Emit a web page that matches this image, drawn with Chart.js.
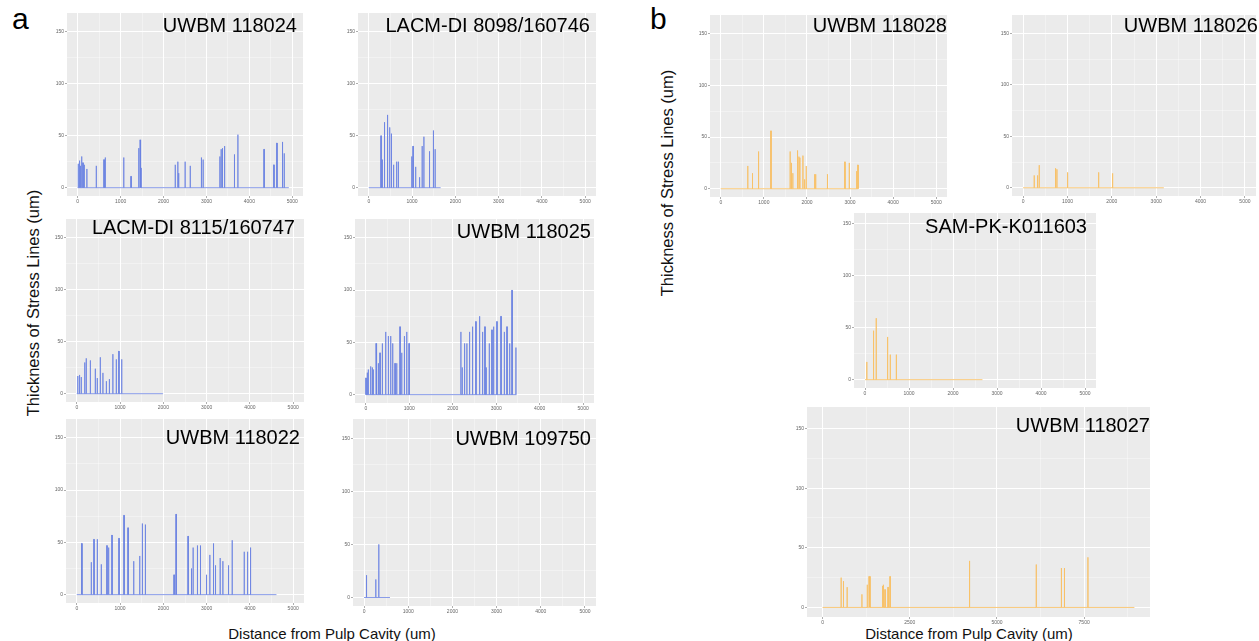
<!DOCTYPE html>
<html>
<head>
<meta charset="utf-8">
<script src="https://cdn.jsdelivr.net/npm/chart.js@4.4.1/dist/chart.umd.min.js"></script>
<style>
  html, body { margin: 0; padding: 0; background: #ffffff; }
  body { width: 1259px; height: 641px; position: relative; overflow: hidden;
         font-family: "Liberation Sans", Arial, Helvetica, sans-serif; }
  .lbl { position: absolute; white-space: nowrap; color: #000; }
  .ttl { font-size: 20px; line-height: 20px; }
  .axt { font-size: 15px; line-height: 15px; color: #111; }
  .axy { font-size: 16.5px; line-height: 16px; color: #111; }
  .big { font-size: 30px; line-height: 30px; }
  canvas { position: absolute; }
</style>
</head>
<body>
<div class="lbl big" style="left:12px; top:4px;">a</div>
<div class="lbl big" style="left:650px; top:4px;">b</div>
<div class="lbl axt" style="left:332px; top:633px; transform:translate(-50%,-50%);">Distance from Pulp Cavity (um)</div>
<div class="lbl axt" style="left:969px; top:633px; transform:translate(-50%,-50%);">Distance from Pulp Cavity (um)</div>
<div class="lbl axy" style="left:33px; top:303px; transform:translate(-50%,-50%) rotate(-90deg);">Thickness of Stress Lines (um)</div>
<div class="lbl axy" style="left:667px; top:183px; transform:translate(-50%,-50%) rotate(-90deg);">Thickness of Stress Lines (um)</div>

<script>
// ---------- tick labels ----------
const yTicks = [0, 50, 100, 150];
const xTicks5k = [0, 1000, 2000, 3000, 4000, 5000];
const xTicks10k = [0, 2500, 5000, 7500];

// ---------- series: spike positions (um) and thickness (um), plus end of trace ----------
const uwbm118024X = [10, 40, 60, 90, 120, 150, 210, 430, 610, 640, 1070, 1240, 1420, 1450, 1470, 2270, 2330, 2350, 2500, 2620, 2880, 2920, 3310, 3340, 3370, 3420, 3650, 3730, 4340, 4570, 4640, 4770, 4810];
const uwbm118024H = [23, 26, 21, 30, 24, 22, 18, 21, 27, 29, 29, 11, 38, 46, 19, 22, 25, 14, 25, 21, 29, 27, 30, 37, 38, 40, 32, 51, 37, 22, 43, 44, 33];
const uwbm118024End = 4920;

const lacm8098X = [280, 310, 360, 430, 480, 520, 570, 640, 680, 990, 1020, 1080, 1170, 1230, 1270, 1400, 1490, 1530];
const lacm8098H = [50, 27, 63, 70, 58, 52, 22, 25, 25, 30, 40, 20, 10, 40, 49, 35, 55, 37];
const lacm8098End = 1660;

const lacm8115X = [20, 60, 100, 180, 215, 310, 425, 470, 540, 600, 680, 750, 830, 910, 970, 1035];
const lacm8115H = [17, 18, 16, 30, 34, 32, 24, 15, 35, 20, 12, 14, 38, 33, 41, 33];
const lacm8115End = 1990;

const uwbm118025X = [0, 31, 54, 108, 146, 169, 231, 246, 285, 323, 377, 454, 515, 569, 615, 669, 708, 784, 823, 884, 938, 992, 2184, 2215, 2269, 2322, 2384, 2453, 2530, 2615, 2684, 2738, 2768, 2838, 2899, 2938, 3014, 3107, 3184, 3245, 3307, 3361, 3450];
const uwbm118025H = [16, 21, 24, 27, 26, 24, 49, 21, 30, 40, 49, 60, 56, 56, 49, 30, 30, 65, 40, 56, 60, 49, 60, 26, 49, 49, 60, 65, 70, 75, 60, 65, 26, 49, 62, 65, 70, 75, 60, 65, 49, 100, 45];
const uwbm118025End = 3461;

const uwbm118022X = [100, 116, 332, 394, 471, 563, 694, 733, 810, 972, 1088, 1181, 1312, 1451, 1512, 1582, 2245, 2292, 2569, 2647, 2685, 2785, 2855, 2994, 3071, 3156, 3202, 3310, 3372, 3503, 3588, 3866, 3943, 4012];
const uwbm118022H = [36, 49, 31, 53, 53, 29, 47, 45, 57, 54, 76, 64, 32, 37, 68, 67, 19, 77, 56, 25, 45, 47, 47, 19, 38, 49, 28, 35, 32, 28, 52, 41, 41, 45];
const uwbm118022End = 4614;

const uwbm109750X = [53, 263, 331];
const uwbm109750H = [21, 17, 50];
const uwbm109750End = 587;

const uwbm118028X = [624, 733, 874, 1162, 1607, 1638, 1669, 1778, 1810, 1833, 1903, 1942, 1981, 2176, 2200, 2473, 2878, 2980, 3151, 3180];
const uwbm118028H = [22, 15, 36, 56, 36, 25, 15, 37, 31, 30, 32, 9, 22, 14, 14, 14, 26, 25, 17, 23];
const uwbm118028End = 3190;

const uwbm118026X = [248, 323, 361, 729, 759, 1000, 1700, 2015];
const uwbm118026H = [12, 12, 22, 19, 18, 15, 15, 14];
const uwbm118026End = 3173;

const samK011603X = [38, 191, 252, 511, 572, 710];
const samK011603H = [17, 47, 59, 41, 24, 24];
const samK011603End = 2670;

const uwbm118027X = [529, 596, 702, 1125, 1279, 1327, 1356, 1721, 1740, 1788, 1875, 1933, 4211, 6125, 6846, 6933, 7606];
const uwbm118027H = [25, 22, 17, 11, 19, 26, 26, 18, 19, 15, 17, 26, 39, 36, 33, 33, 42];
const uwbm118027End = 8942;

// ---------- styling / layout ----------
const BLUE = 'rgba(104,128,226,0.78)';
const ORANGE = 'rgba(248,192,100,0.85)';
const PAD_L = 14, PAD_B = 11;
const SPIKE_W = 5;

const panels = [
  { name: 'UWBM 118024', xs: uwbm118024X, hs: uwbm118024H, end: uwbm118024End, color: BLUE,
    box: [67, 13, 303, 196], xr: [-250, 5250], yr: [-8, 168], xt: xTicks5k, title: [297, 32] },
  { name: 'LACM-DI 8098/160746', xs: lacm8098X, hs: lacm8098H, end: lacm8098End, color: BLUE,
    box: [358, 13, 596, 196], xr: [-250, 5250], yr: [-8, 168], xt: xTicks5k, title: [590, 32] },
  { name: 'LACM-DI 8115/160747', xs: lacm8115X, hs: lacm8115H, end: lacm8115End, color: BLUE,
    box: [66, 219, 304, 402], xr: [-250, 5250], yr: [-8, 168], xt: xTicks5k, title: [295, 234] },
  { name: 'UWBM 118025', xs: uwbm118025X, hs: uwbm118025H, end: uwbm118025End, color: BLUE,
    box: [355, 219, 594, 403], xr: [-250, 5250], yr: [-8, 168], xt: xTicks5k, title: [591, 238] },
  { name: 'UWBM 118022', xs: uwbm118022X, hs: uwbm118022H, end: uwbm118022End, color: BLUE,
    box: [66, 419, 304, 603], xr: [-250, 5250], yr: [-8, 168], xt: xTicks5k, title: [300, 444] },
  { name: 'UWBM 109750', xs: uwbm109750X, hs: uwbm109750H, end: uwbm109750End, color: BLUE,
    box: [353, 419, 596, 606], xr: [-250, 5250], yr: [-8, 168], xt: xTicks5k, title: [591, 445] },
  { name: 'UWBM 118028', xs: uwbm118028X, hs: uwbm118028H, end: uwbm118028End, color: ORANGE,
    box: [710, 15, 947, 197], xr: [-250, 5250], yr: [-8, 168], xt: xTicks5k, title: [947, 32] },
  { name: 'UWBM 118026', xs: uwbm118026X, hs: uwbm118026H, end: uwbm118026End, color: ORANGE,
    box: [1012, 15, 1256, 196], xr: [-250, 5250], yr: [-8, 168], xt: xTicks5k, title: [1258, 32] },
  { name: 'SAM-PK-K011603', xs: samK011603X, hs: samK011603H, end: samK011603End, color: ORANGE,
    box: [854, 213, 1096, 388], xr: [-250, 5250], yr: [-8, 160], xt: xTicks5k, title: [1087, 233] },
  { name: 'UWBM 118027', xs: uwbm118027X, hs: uwbm118027H, end: uwbm118027End, color: ORANGE,
    box: [807, 407, 1150, 617], xr: [-447, 9389], yr: [-8, 168], xt: xTicks10k, title: [1150, 432] }
];

function spikeLine(xs, hs, end) {
  const pts = [{ x: 0, y: 0 }];
  xs.forEach((x, i) => {
    pts.push({ x: x, y: 0 }, { x: x, y: hs[i] }, { x: x + SPIKE_W, y: hs[i] }, { x: x + SPIKE_W, y: 0 });
  });
  pts.push({ x: end, y: 0 });
  return pts;
}

function tickSet(majors, lo, hi) {
  const step = majors[1] - majors[0];
  const out = [];
  const ext = [majors[0] - step].concat(majors, [majors[majors.length - 1] + step]);
  ext.forEach(v => {
    if (majors.includes(v)) out.push({ value: v, major: true });
    const m = v + step / 2;
    if (m >= lo && m <= hi && !majors.includes(m)) out.push({ value: m, major: false });
  });
  return out.filter(t => t.value >= lo && t.value <= hi).sort((a, b) => a.value - b.value);
}

const bgPlugin = {
  id: 'panelBg',
  beforeDraw(chart) {
    const { ctx, chartArea: a } = chart;
    ctx.save();
    ctx.fillStyle = '#ebebeb';
    ctx.fillRect(a.left, a.top, a.right - a.left, a.bottom - a.top);
    ctx.restore();
  }
};

function axisOpts(majors, range, isX) {
  const majorSet = new Set(majors);
  return {
    type: 'linear',
    min: range[0],
    max: range[1],
    afterBuildTicks(scale) { scale.ticks = tickSet(majors, range[0], range[1]); },
    afterFit(scale) {
      if (isX) scale.height = PAD_B; else scale.width = PAD_L;
      scale.paddingTop = 0; scale.paddingBottom = 0; scale.paddingLeft = 0; scale.paddingRight = 0;
    },
    border: { display: false },
    grid: {
      drawTicks: true,
      tickLength: 2,
      color: c => (c.tick && c.tick.major) ? '#ffffff' : 'rgba(255,255,255,0.75)',
      lineWidth: c => (c.tick && c.tick.major) ? 1 : 0.5,
      tickColor: c => (c.tick && c.tick.major) ? '#777777' : 'rgba(0,0,0,0)',
      tickWidth: 0.6
    },
    ticks: {
      autoSkip: false,
      maxRotation: 0,
      minRotation: 0,
      padding: 1,
      color: '#666666',
      font: { family: '"Liberation Sans", Arial, sans-serif', size: 5 },
      callback: v => majorSet.has(v) ? String(v) : ''
    }
  };
}

panels.forEach(p => {
  const [L, T, R, B] = p.box;
  const cv = document.createElement('canvas');
  const w = R - L + PAD_L, h = B - T + PAD_B;
  cv.width = w; cv.height = h;
  cv.style.width = w + 'px'; cv.style.height = h + 'px';
  cv.style.left = (L - PAD_L) + 'px'; cv.style.top = T + 'px';
  document.body.appendChild(cv);

  new Chart(cv.getContext('2d'), {
    type: 'line',
    data: {
      datasets: [{
        data: spikeLine(p.xs, p.hs, p.end),
        borderColor: p.color,
        borderWidth: 1,
        pointRadius: 0,
        tension: 0,
        fill: false
      }]
    },
    options: {
      responsive: false,
      animation: false,
      devicePixelRatio: 1,
      layout: { padding: 0 },
      plugins: { legend: { display: false }, tooltip: { enabled: false }, title: { display: false } },
      scales: {
        x: axisOpts(p.xt, p.xr, true),
        y: axisOpts(yTicks, p.yr, false)
      }
    },
    plugins: [bgPlugin]
  });

  const t = document.createElement('div');
  t.className = 'lbl ttl';
  t.textContent = p.name;
  t.style.right = (1259 - p.title[0]) + 'px';
  t.style.top = (p.title[1] - 17) + 'px';
  document.body.appendChild(t);
});
</script>
</body>
</html>
